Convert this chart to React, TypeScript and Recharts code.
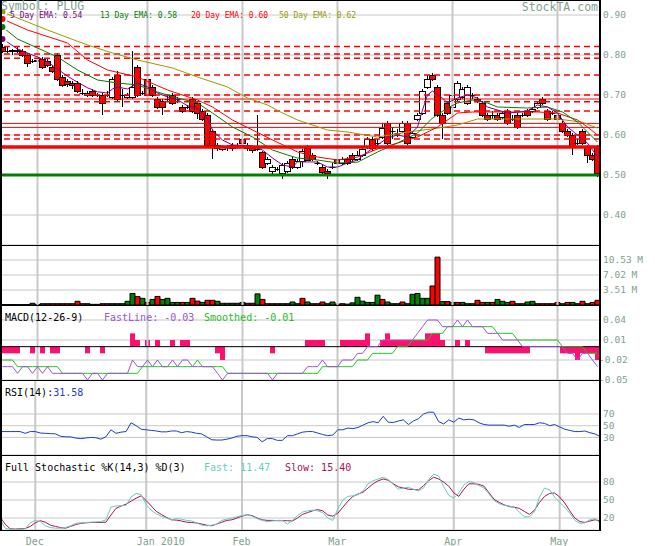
import React from "react";
import {
  Bar,
  CartesianGrid,
  Cell,
  ComposedChart,
  Line,
  ReferenceLine,
  XAxis,
  YAxis,
} from "recharts";

// PLUG daily, trading-day index 0 = 19 Nov 2009 ... 119 = 13 May 2010
const MONTH_IDX = [7, 29, 48, 67, 90, 111];
const MONTH_LABELS = ["Dec", "Jan 2010", "Feb", "Mar", "Apr", "May"];

const OPEN = [
  0.82, 0.81, 0.81, 0.812, 0.81, 0.8, 0.785, 0.785, 0.79, 0.785,
  0.77, 0.8, 0.745, 0.735, 0.73, 0.73, 0.705, 0.7, 0.71, 0.7,
  0.7, 0.7, 0.695, 0.75, 0.7, 0.695, 0.695, 0.77, 0.705, 0.74,
  0.72, 0.69, 0.685, 0.69, 0.7, 0.69, 0.67, 0.67, 0.69, 0.68,
  0.66, 0.65, 0.61, 0.575, 0.565, 0.57, 0.575, 0.57, 0.59, 0.575,
  0.57, 0.565, 0.557, 0.53, 0.51, 0.515, 0.505, 0.51, 0.54, 0.52,
  0.535, 0.567, 0.55, 0.53, 0.52, 0.51, 0.52, 0.54, 0.53, 0.54,
  0.55, 0.54, 0.55, 0.57, 0.59, 0.58, 0.595, 0.63, 0.61, 0.605,
  0.61, 0.63, 0.595, 0.64, 0.655, 0.72, 0.75, 0.72, 0.65, 0.68,
  0.67, 0.69, 0.695, 0.68, 0.7, 0.69, 0.68, 0.65, 0.65, 0.65,
  0.645, 0.66, 0.64, 0.65, 0.65, 0.66, 0.66, 0.67, 0.69, 0.66,
  0.655, 0.65, 0.63, 0.61, 0.6, 0.58, 0.61, 0.57, 0.55, 0.57,
];
const CLOSE = [
  0.81, 0.81, 0.812, 0.81, 0.8, 0.78, 0.785, 0.787, 0.77, 0.775,
  0.76, 0.74, 0.725, 0.727, 0.725, 0.71, 0.705, 0.705, 0.7, 0.7,
  0.68, 0.7, 0.74, 0.69, 0.7, 0.7, 0.72, 0.7, 0.705, 0.7,
  0.7, 0.67, 0.67, 0.69, 0.68, 0.69, 0.66, 0.67, 0.66, 0.655,
  0.64, 0.575, 0.575, 0.567, 0.57, 0.57, 0.567, 0.575, 0.58, 0.567,
  0.563, 0.565, 0.52, 0.54, 0.52, 0.515, 0.525, 0.53, 0.52, 0.535,
  0.56, 0.537, 0.54, 0.53, 0.507, 0.505, 0.52, 0.53, 0.54, 0.53,
  0.54, 0.55, 0.565, 0.59, 0.567, 0.58, 0.617, 0.58, 0.61, 0.605,
  0.63, 0.58, 0.605, 0.65, 0.71, 0.74, 0.74, 0.65, 0.63, 0.655,
  0.7, 0.73, 0.715, 0.72, 0.7, 0.685, 0.65, 0.64, 0.65, 0.64,
  0.655, 0.63, 0.64, 0.62, 0.65, 0.65, 0.665, 0.68, 0.68, 0.64,
  0.655, 0.64, 0.61, 0.6, 0.57, 0.58, 0.58, 0.55, 0.54, 0.505,
];
const HIGH = [
  0.84, 0.82, 0.815, 0.82, 0.815, 0.805, 0.79, 0.795, 0.795, 0.79,
  0.775, 0.805, 0.75, 0.74, 0.735, 0.735, 0.715, 0.71, 0.715, 0.705,
  0.705, 0.71, 0.745, 0.76, 0.715, 0.705, 0.81, 0.775, 0.71, 0.76,
  0.725, 0.695, 0.69, 0.7, 0.705, 0.695, 0.675, 0.675, 0.695, 0.685,
  0.665, 0.655, 0.615, 0.58, 0.575, 0.575, 0.58, 0.58, 0.595, 0.58,
  0.575, 0.65, 0.56, 0.545, 0.525, 0.52, 0.53, 0.535, 0.545, 0.54,
  0.565, 0.575, 0.555, 0.535, 0.525, 0.515, 0.53, 0.545, 0.545, 0.545,
  0.555, 0.56, 0.57, 0.595, 0.595, 0.59, 0.63, 0.635, 0.62, 0.615,
  0.635, 0.635, 0.61, 0.655, 0.715, 0.75, 0.755, 0.725, 0.655, 0.685,
  0.705, 0.735, 0.72, 0.725, 0.705, 0.695, 0.685, 0.655, 0.66, 0.655,
  0.66, 0.665, 0.65, 0.655, 0.655, 0.665, 0.67, 0.685, 0.695, 0.665,
  0.66, 0.655, 0.635, 0.615, 0.605, 0.59, 0.615, 0.575, 0.555, 0.575,
];
const LOW = [
  0.805, 0.805, 0.8, 0.805, 0.795, 0.77, 0.78, 0.78, 0.765, 0.77,
  0.755, 0.735, 0.72, 0.72, 0.715, 0.705, 0.7, 0.695, 0.695, 0.695,
  0.65, 0.695, 0.69, 0.685, 0.67, 0.69, 0.69, 0.695, 0.7, 0.695,
  0.695, 0.665, 0.65, 0.685, 0.675, 0.68, 0.655, 0.665, 0.655, 0.64,
  0.635, 0.57, 0.54, 0.56, 0.56, 0.56, 0.56, 0.565, 0.575, 0.56,
  0.555, 0.56, 0.515, 0.525, 0.5, 0.51, 0.49, 0.505, 0.515, 0.515,
  0.52, 0.535, 0.535, 0.525, 0.5, 0.49, 0.515, 0.525, 0.525, 0.525,
  0.535, 0.535, 0.545, 0.565, 0.56, 0.57, 0.59, 0.575, 0.59, 0.595,
  0.605, 0.575, 0.59, 0.635, 0.65, 0.715, 0.735, 0.645, 0.59, 0.65,
  0.66, 0.685, 0.69, 0.675, 0.69, 0.68, 0.645, 0.635, 0.64, 0.635,
  0.64, 0.625, 0.635, 0.615, 0.645, 0.645, 0.655, 0.665, 0.675, 0.635,
  0.65, 0.635, 0.605, 0.595, 0.55, 0.575, 0.575, 0.53, 0.535, 0.495,
];

// EMA lines as [day index, value]
const EMA5: [number, number][] = [
  [0, 0.84], [1, 0.832], [3, 0.815], [5, 0.805], [7, 0.795], [9, 0.783], [11, 0.765],
  [13, 0.747], [15, 0.732], [17, 0.718], [19, 0.708], [21, 0.705], [22, 0.715], [23, 0.72],
  [25, 0.715], [27, 0.73], [29, 0.72], [31, 0.705], [33, 0.695], [35, 0.688], [37, 0.673],
  [39, 0.667], [41, 0.64], [42, 0.612], [44, 0.5875], [46, 0.575], [50, 0.573], [52, 0.5625],
  [54, 0.5425], [56, 0.525], [58, 0.52], [59, 0.533], [63, 0.5325], [65, 0.52], [67, 0.52],
  [69, 0.53], [71, 0.5375], [73, 0.5575], [75, 0.575], [77, 0.5925], [79, 0.6], [81, 0.595],
  [83, 0.62], [84, 0.6625], [85, 0.7], [86, 0.71], [88, 0.6925], [89, 0.68], [91, 0.6925],
  [93, 0.7], [95, 0.6925], [97, 0.67], [99, 0.6625], [101, 0.655], [103, 0.657], [105, 0.66],
  [107, 0.675], [109, 0.67], [111, 0.655], [113, 0.62], [115, 0.6], [117, 0.58], [119, 0.545],
];
const EMA13: [number, number][] = [
  [0, 0.87], [3, 0.84], [7, 0.8175], [11, 0.795], [15, 0.7625], [19, 0.7375], [23, 0.73],
  [27, 0.725], [31, 0.7075], [35, 0.6925], [39, 0.68], [42, 0.655], [46, 0.62], [50, 0.595],
  [54, 0.5625], [57, 0.55], [59, 0.5425], [63, 0.5375], [67, 0.53], [71, 0.532], [75, 0.5575],
  [79, 0.58], [83, 0.605], [86, 0.6425], [89, 0.6675], [91, 0.68], [94, 0.6875], [97, 0.68],
  [99, 0.67], [105, 0.6675], [109, 0.67], [112, 0.6575], [115, 0.6325], [119, 0.5825],
];
const EMA20: [number, number][] = [
  [0, 0.89], [5, 0.8625], [13, 0.83], [17, 0.7875], [21, 0.7625], [27, 0.745], [33, 0.7125],
  [36, 0.7], [39, 0.6875], [42, 0.67], [46, 0.6375], [50, 0.6125], [54, 0.5875], [57, 0.57],
  [59, 0.5575], [63, 0.545], [67, 0.5375], [71, 0.545], [75, 0.565], [79, 0.58], [83, 0.595],
  [87, 0.62], [91, 0.655], [94, 0.6575], [107, 0.6575], [111, 0.655], [115, 0.6375],
  [117, 0.62], [119, 0.6],
];
const EMA50: [number, number][] = [
  [0, 0.9075], [4, 0.8875], [9, 0.8625], [17, 0.825], [22, 0.805], [27, 0.7875], [34, 0.7675],
  [39, 0.745], [45, 0.72], [49, 0.6925], [53, 0.675], [56, 0.655], [59, 0.6375], [65, 0.6125],
  [69, 0.6075], [75, 0.595], [81, 0.6075], [87, 0.617], [91, 0.625], [95, 0.64], [111, 0.64],
  [116, 0.632], [119, 0.617],
];

// support / resistance levels
const DASHED_LEVELS = [0.821, 0.8025, 0.792, 0.75, 0.7, 0.683, 0.66, 0.6, 0.59];
const SOLID_LEVELS = [0.69, 0.629, 0.619];
const RED_LEVEL = 0.57;
const GREEN_LEVEL = 0.5;

// volume in millions, g = up day, r = down day
const VOLUME = [
  0.1, 0.1, 0.1, 0.1, 0.1, 0.1, 0.4, 0.1, 0.3, 0.3,
  0.3, 0.3, 0.3, 0.3, 0.3, 0.86, 0.3, 0.3, 0.15, 0.15,
  0.3, 0.3, 0.3, 0.3, 0.3, 0.86, 2.7, 1.95, 1.56, 0.6,
  1.3, 2.0, 1.3, 1.56, 0.6, 0.6, 0.6, 0.6, 1.56, 0.9,
  0.6, 1.1, 1.1, 0.86, 0.4, 0.4, 0.4, 0.4, 0.6, 0.4,
  0.4, 2.6, 1.3, 0.3, 0.3, 0.3, 0.3, 0.3, 0.7, 0.3,
  1.56, 0.7, 0.3, 0.3, 0.7, 0.3, 0.7, 0.2, 0.3, 0.2,
  0.5, 1.8, 0.9, 0.6, 0.6, 2.3, 1.3, 0.7, 0.3, 0.3,
  0.7, 0.3, 2.5, 2.7, 1.56, 1.56, 4.45, 11.2, 0.8, 0.8,
  0.6, 0.6, 0.6, 0.3, 0.3, 1.1, 0.6, 0.6, 0.6, 1.3,
  0.86, 0.6, 0.86, 0.3, 0.3, 0.7, 0.86, 0.3, 0.3, 0.3,
  0.3, 0.6, 0.3, 0.6, 0.6, 0.3, 0.86, 0.3, 0.6, 1.1,
];
const VOLUME_DIR =
  "gggggggggr" + "rrrrrrrggg" + "rrgggggrgr" + "grggggrgrr" + "grrggggggr" +
  "rgrrgrgrgg" + "rgrrrgggrg" + "ggggggrggg" + "rgggggrrgr" + "grgggrrgrg" +
  "ggrggggrrr" + "rrgrggrgrr";

const MACD_FAST = [
  -0.03, -0.03, -0.03, -0.04, -0.03, -0.03, -0.04, -0.03, -0.04, -0.03,
  -0.04, -0.04, -0.04, -0.04, -0.04, -0.04, -0.04, -0.05, -0.04, -0.04,
  -0.05, -0.04, -0.04, -0.04, -0.04, -0.04, -0.02, -0.03, -0.03, -0.02,
  -0.03, -0.02, -0.03, -0.03, -0.02, -0.03, -0.02, -0.02, -0.03, -0.03,
  -0.03, -0.03, -0.03, -0.04, -0.05, -0.04, -0.04, -0.04, -0.04, -0.04,
  -0.04, -0.04, -0.04, -0.04, -0.05, -0.04, -0.04, -0.04, -0.04, -0.04,
  -0.04, -0.03, -0.03, -0.03, -0.02, -0.03, -0.03, -0.03, -0.02, -0.02,
  -0.02, -0.01, -0.01, 0, 0, 0, 0.01, 0.01, 0.01, 0.01,
  0.01, 0.01, 0.01, 0.02, 0.03, 0.04, 0.04, 0.04, 0.03, 0.03,
  0.03, 0.04, 0.03, 0.04, 0.03, 0.03, 0.03, 0.02, 0.02, 0.02,
  0.01, 0.01, 0.01, 0.01, 0, 0, 0, 0, 0, 0,
  0, 0, 0, -0.01, -0.01, -0.02, -0.01, -0.01, -0.02, -0.03,
];
const MACD_SIGNAL = [
  -0.02, -0.02, -0.02, -0.03, -0.03, -0.03, -0.03, -0.03, -0.03, -0.03,
  -0.03, -0.03, -0.04, -0.04, -0.04, -0.04, -0.04, -0.04, -0.04, -0.04,
  -0.04, -0.04, -0.04, -0.04, -0.04, -0.04, -0.04, -0.04, -0.03, -0.03,
  -0.03, -0.03, -0.03, -0.03, -0.03, -0.03, -0.03, -0.03, -0.03, -0.02,
  -0.03, -0.03, -0.03, -0.03, -0.03, -0.04, -0.04, -0.04, -0.04, -0.04,
  -0.04, -0.04, -0.04, -0.04, -0.04, -0.04, -0.04, -0.04, -0.04, -0.04,
  -0.04, -0.04, -0.04, -0.04, -0.03, -0.03, -0.03, -0.03, -0.03, -0.03,
  -0.03, -0.02, -0.02, -0.02, -0.01, -0.01, -0.01, -0.01, -0.01, 0,
  0, 0, 0.01, 0.01, 0.01, 0.01, 0.02, 0.02, 0.02, 0.03,
  0.03, 0.03, 0.03, 0.03, 0.03, 0.03, 0.03, 0.03, 0.03, 0.02,
  0.02, 0.02, 0.02, 0.01, 0.01, 0.01, 0.01, 0.01, 0.01, 0.01,
  0.01, 0.01, 0, 0, 0, 0, 0, -0.01, -0.01, -0.01,
];
const MACD_HIST = [
  -0.01, -0.01, -0.01, -0.01, 0, 0, -0.01, 0, -0.01, 0,
  -0.01, -0.01, 0, 0, 0, 0, 0, -0.01, 0, 0,
  -0.01, 0, 0, 0, 0, 0, 0.02, 0.01, 0, 0.01,
  0, 0.01, 0, 0, 0.01, 0, 0.01, 0.01, 0, 0,
  0, 0, 0, -0.01, -0.02, 0, 0, 0, 0, 0,
  0, 0, 0, 0, -0.01, 0, 0, 0, 0, 0,
  0, 0.01, 0.01, 0.01, 0.01, 0, 0, 0, 0.01, 0.01,
  0.01, 0.01, 0.01, 0.02, 0, 0, 0.01, 0.02, 0.01, 0.01,
  0.01, 0.01, 0.01, 0.01, 0.01, 0.02, 0.02, 0.02, 0.01, 0,
  0, 0.01, 0, 0.01, 0, 0, 0, -0.01, -0.01, -0.01,
  -0.01, -0.01, -0.01, -0.01, -0.01, -0.01, 0, 0, 0, 0,
  0, 0, -0.01, -0.01, -0.01, -0.02, -0.01, -0.01, -0.01, -0.02,
];

const RSI = [
  40, 40, 40, 40, 40, 37, 40, 40, 37.5, 37,
  36.5, 36, 32, 31, 31, 29, 28, 29, 30, 29.5,
  27, 31, 43, 37, 39, 40, 55, 50, 44, 43,
  42, 41, 39.5, 39.5, 41, 41, 38, 40, 39, 37,
  36, 31, 26, 25.5, 25.5, 27, 29, 32, 33, 33,
  31, 30, 22.5, 28, 28, 25, 25, 33, 33, 36,
  39, 40, 40, 37.5, 35, 33, 34, 43, 43, 46,
  45, 47, 51, 55, 57, 55, 66, 56, 55.5, 58,
  60, 52, 58, 62, 70, 73, 73, 57, 53, 60,
  56, 63, 60, 61, 60, 55, 52, 51, 51, 51,
  51, 49, 51, 47, 52, 52, 52, 55, 54, 50,
  52, 48, 44, 42, 40, 40, 41, 38, 36, 31.58,
];

const STOCH_FAST = [
  18, 3, 1, 0.5, 1, 2, 12, 16, 14, 7,
  4, 3, 3, 4, 7, 11, 12, 12.5, 13, 13.5,
  14, 17, 38, 40, 40.5, 41, 55, 61, 59, 42,
  33, 27, 23, 20, 17, 19, 18, 16, 15, 12,
  8, 7, 8, 10, 16, 18, 20, 22, 24, 25.5,
  23, 19, 16, 14, 15, 16, 16, 10, 16, 24,
  30, 32, 33, 32, 29, 20, 16, 35, 50, 56,
  57, 59, 65, 77, 82, 85, 88, 84, 76, 68,
  70, 71, 68, 65, 70, 84, 93, 90, 72, 58,
  53, 62, 75, 81, 79, 74, 70, 60, 49, 44,
  41, 40, 38, 30, 22, 22, 30, 55, 70, 67,
  55, 46, 38, 28, 16, 11, 12, 17, 19, 11.47,
];
const STOCH_SLOW = [
  22, 10, 2, 1.5, 2, 2.5, 6, 12, 15.5, 13,
  8, 6, 4, 3, 6, 9, 11, 12, 12.5, 12.7,
  12.7, 13, 25, 36, 40, 43, 48, 53, 57, 49,
  40, 31, 26, 21, 17, 16.5, 15, 13, 12.5, 11.6,
  10, 8, 7, 10, 13, 16, 17, 20, 23, 25.5,
  24, 20, 17, 16, 16, 15.5, 15.5, 15.5, 15, 20,
  26, 29, 32, 34, 32, 25, 23, 28, 38, 48,
  56, 60, 63, 70, 77, 82, 85, 83, 77, 72,
  70, 68, 67.5, 67, 74, 82, 88, 85, 80, 73,
  62, 56, 68, 77, 77, 76, 73, 62, 51, 46,
  42, 39, 38, 36, 31, 26, 33, 46, 56, 61,
  61.6, 55, 45, 32, 20, 14, 12.7, 15, 17, 15.4,
];

const PRICE_TICKS = [0.4, 0.5, 0.6, 0.7, 0.8, 0.9];
const VOLUME_TICKS = [3.51, 7.02, 10.53];
const MACD_TICKS = [-0.05, -0.02, 0.01, 0.04];
const RSI_TICKS = [30, 50, 70];
const STOCH_TICKS = [20, 50, 80];

const MONO = '"DejaVu Sans Mono", monospace';
const LABEL = "#7f9f8f";
const GRID = "#c8c8c8";
const W = 655;
const AXIS_W = 55;

type Row = {
  i: number;
  open: number;
  high: number;
  low: number;
  close: number;
  vol: number;
  up: boolean;
  fast: number;
  signal: number;
  hist: number;
  rsi: number;
  k: number;
  d: number;
  e5: number | null;
  e13: number | null;
  e20: number | null;
  e50: number | null;
};

const rows: Row[] = CLOSE.map((close, i) => ({
  i,
  open: OPEN[i],
  high: HIGH[i],
  low: LOW[i],
  close,
  vol: VOLUME[i],
  up: VOLUME_DIR[i] === "g",
  fast: MACD_FAST[i],
  signal: MACD_SIGNAL[i],
  hist: MACD_HIST[i],
  rsi: RSI[i],
  k: STOCH_FAST[i],
  d: STOCH_SLOW[i],
  e5: null,
  e13: null,
  e20: null,
  e50: null,
}));
EMA5.forEach(([i, v]) => (rows[i].e5 = v));
EMA13.forEach(([i, v]) => (rows[i].e13 = v));
EMA20.forEach(([i, v]) => (rows[i].e20 = v));
EMA50.forEach(([i, v]) => (rows[i].e50 = v));

// candle drawn inside the low-high range bar that recharts positions
function Candle(props: any) {
  const { x, y, width, height, payload } = props;
  if (x == null || !payload) return null;
  const top = Math.min(y, y + height);
  const h = Math.abs(height);
  const { open, close, high, low } = payload;
  const span = high - low || 1;
  const py = (v: number) => top + ((high - v) / span) * h;
  const cx = Math.floor(x + width / 2) + 0.5;
  const bTop = Math.round(py(Math.max(open, close))) + 0.5;
  const bBot = Math.round(py(Math.min(open, close))) + 0.5;
  return (
    <g>
      <line x1={cx} x2={cx} y1={top} y2={top + h} stroke="#000" strokeWidth={1} />
      {bBot - bTop < 1 ? (
        <line x1={cx - 3} x2={cx + 3} y1={bTop} y2={bTop} stroke="#000" strokeWidth={1} />
      ) : (
        <rect
          x={cx - 3}
          y={bTop}
          width={6}
          height={bBot - bTop}
          fill={close >= open ? "#ffffff" : "#ff0000"}
          stroke="#000"
          strokeWidth={1}
        />
      )}
    </g>
  );
}

const rightTick = (fmt: (v: number) => string) => (p: any) => {
  const v = p.payload.value as number;
  return (
    <text
      x={p.x + (v < 0 ? -4 : 0)}
      y={p.y}
      dy="0.36em"
      fill={LABEL}
      fontSize={9.5}
      fontFamily={MONO}
    >
      {fmt(v)}
    </text>
  );
};

const monthTick = (p: any) => {
  const k = MONTH_IDX.indexOf(p.payload.value);
  if (k < 0) return <g />;
  return (
    <text x={p.x - 9.5} y={90} fill={LABEL} fontSize={10} fontFamily={MONO}>
      {MONTH_LABELS[k]}
    </text>
  );
};

const monthLines = MONTH_IDX.map((m) => (
  <ReferenceLine key={`m${m}`} x={m} stroke={GRID} strokeWidth={2} />
));

export default function App() {
  const common = {
    data: rows,
    width: W,
    margin: { top: 0, right: 0, bottom: 0, left: 0 },
    barCategoryGap: 0,
    barGap: 0,
  };
  const yAxisProps = {
    orientation: "right" as const,
    width: AXIS_W,
    axisLine: false,
    tickLine: false,
    tickSize: 0,
    tickMargin: 3,
    allowDataOverflow: true,
    interval: 0 as const,
  };
  return (
    <div
      style={{
        position: "absolute",
        left: 0,
        top: 0,
        width: W,
        height: 546,
        background: "#fff",
        overflow: "hidden",
      }}
    >
      {/* price */}
      <div style={{ position: "absolute", left: 0, top: 0 }}>
        <ComposedChart {...common} height={245}>
          <CartesianGrid vertical={false} stroke={GRID} />
          {monthLines}
          <XAxis dataKey="i" hide />
          <YAxis
            {...yAxisProps}
            domain={[0.325, 0.9375]}
            ticks={PRICE_TICKS}
            tick={rightTick((v) => v.toFixed(2))}
          />
          {DASHED_LEVELS.map((v) => (
            <ReferenceLine key={`d${v}`} y={v} stroke="#ff0000" strokeWidth={1.5} strokeDasharray="6 4" />
          ))}
          {SOLID_LEVELS.map((v) => (
            <ReferenceLine key={`s${v}`} y={v} stroke="#ff0000" strokeWidth={1} />
          ))}
          <Bar
            dataKey={(r: Row) => [r.low, r.high]}
            shape={(p: any) => <Candle {...p} />}
            isAnimationActive={false}
          />
          <Line dataKey="e50" stroke="#999900" dot={false} connectNulls strokeWidth={1} type="linear" isAnimationActive={false} />
          <Line dataKey="e20" stroke="#ff0000" dot={false} connectNulls strokeWidth={1} type="linear" isAnimationActive={false} />
          <Line dataKey="e13" stroke="#008000" dot={false} connectNulls strokeWidth={1} type="linear" isAnimationActive={false} />
          <Line dataKey="e5" stroke="#800080" dot={false} connectNulls strokeWidth={1} type="linear" isAnimationActive={false} />
          <ReferenceLine y={RED_LEVEL} stroke="#ff0000" strokeWidth={3.5} />
          <ReferenceLine y={GREEN_LEVEL} stroke="#008000" strokeWidth={3} />
        </ComposedChart>
      </div>

      {/* volume */}
      <div style={{ position: "absolute", left: 0, top: 245 }}>
        <ComposedChart {...common} height={60}>
          <CartesianGrid vertical={false} stroke={GRID} />
          {monthLines}
          <XAxis dataKey="i" hide />
          <YAxis
            {...yAxisProps}
            domain={[0, 14.04]}
            ticks={VOLUME_TICKS}
            tick={rightTick((v) => `${v.toFixed(2)} M`)}
          />
          <Bar dataKey="vol" stroke="#000" strokeWidth={1} isAnimationActive={false}>
            {rows.map((r) => (
              <Cell key={r.i} fill={r.up ? "#008000" : "#ff0000"} />
            ))}
          </Bar>
        </ComposedChart>
      </div>

      {/* MACD (extra 10px below the plot so the -0.05 label is not cut) */}
      <div style={{ position: "absolute", left: 0, top: 305 }}>
        <ComposedChart {...common} height={85} margin={{ top: 0, right: 0, bottom: 10, left: 0 }}>
          <CartesianGrid vertical={false} stroke={GRID} />
          {monthLines}
          <XAxis dataKey="i" hide />
          <YAxis
            {...yAxisProps}
            domain={[-0.05, 0.0625]}
            ticks={MACD_TICKS}
            tick={rightTick((v) => v.toFixed(2))}
          />
          <Bar dataKey="hist" fill="#ff1070" isAnimationActive={false} />
          <ReferenceLine y={0} stroke="#000" strokeWidth={1} />
          <Line dataKey="signal" stroke="#22c022" dot={false} strokeWidth={1} type="linear" isAnimationActive={false} />
          <Line dataKey="fast" stroke="#9a55d0" dot={false} strokeWidth={1} type="linear" isAnimationActive={false} />
        </ComposedChart>
      </div>

      {/* RSI */}
      <div style={{ position: "absolute", left: 0, top: 380 }}>
        <ComposedChart {...common} height={75}>
          <CartesianGrid vertical={false} stroke={GRID} />
          {monthLines}
          <XAxis dataKey="i" hide />
          <YAxis
            {...yAxisProps}
            domain={[0, 128]}
            ticks={RSI_TICKS}
            tick={rightTick((v) => String(v))}
          />
          <Line dataKey="rsi" stroke="#1e3cc8" dot={false} strokeWidth={1} type="linear" isAnimationActive={false} />
        </ComposedChart>
      </div>

      {/* stochastic */}
      <div style={{ position: "absolute", left: 0, top: 455 }}>
        <ComposedChart {...common} height={91}>
          <CartesianGrid vertical={false} stroke={GRID} />
          {monthLines}
          <XAxis
            dataKey="i"
            height={16}
            axisLine={false}
            tickLine={false}
            interval={0}
            tick={monthTick}
          />
          <YAxis
            {...yAxisProps}
            domain={[0, 125]}
            ticks={STOCH_TICKS}
            tick={rightTick((v) => String(v))}
          />
          <Line dataKey="d" stroke="#aa1155" dot={false} strokeWidth={1} type="linear" isAnimationActive={false} />
          <Line dataKey="k" stroke="#66ccbb" dot={false} strokeWidth={1} type="linear" isAnimationActive={false} />
        </ComposedChart>
      </div>

      {/* frames and titles */}
      <svg
        width={W}
        height={546}
        style={{ position: "absolute", left: 0, top: 0, pointerEvents: "none" }}
      >
        {[0.5, 245.5, 305.5, 380.5, 455.5, 530.5].map((y) => (
          <line key={y} x1={0} x2={601} y1={y} y2={y} stroke="#000" strokeWidth={1} />
        ))}
        <line x1={1} x2={1} y1={0} y2={531} stroke="#000" strokeWidth={2} />
        <line x1={600} x2={600} y1={0} y2={531} stroke="#000" strokeWidth={2} />

        <text x={1} y={9.5} fill={LABEL} fontSize={11.5} fontFamily={MONO}>Symbol: PLUG</text>
        <text x={598} y={10.5} fill={LABEL} fontSize={11.5} fontFamily={MONO} textAnchor="end">StockTA.com</text>
        <text x={10} y={18} fill="#800080" fontSize={8} fontFamily={MONO}>5 Day EMA: 0.54</text>
        <text x={100} y={18} fill="#008000" fontSize={8} fontFamily={MONO}>13 Day EMA: 0.58</text>
        <text x={191} y={18} fill="#ff0000" fontSize={8} fontFamily={MONO}>20 Day EMA: 0.60</text>
        <text x={279} y={18} fill="#999900" fontSize={8} fontFamily={MONO}>50 Day EMA: 0.62</text>

        <text x={5} y={321} fill="#000" fontSize={10} fontFamily={MONO}>MACD(12-26-9)</text>
        <text x={104} y={321} fill="#9a55d0" fontSize={10} fontFamily={MONO}>FastLine: -0.03</text>
        <text x={204} y={321} fill="#22c022" fontSize={10} fontFamily={MONO}>Smoothed: -0.01</text>

        <text x={5} y={396} fontSize={10} fontFamily={MONO}>
          <tspan fill="#000">RSI(14):</tspan>
          <tspan fill="#1e3cc8">31.58</tspan>
        </text>

        <text x={5} y={471} fill="#000" fontSize={10} fontFamily={MONO}>Full Stochastic %K(14,3) %D(3)</text>
        <text x={204} y={471} fill="#66ccbb" fontSize={10} fontFamily={MONO}>Fast: 11.47</text>
        <text x={285} y={471} fill="#aa1155" fontSize={10} fontFamily={MONO}>Slow: 15.40</text>
      </svg>
    </div>
  );
}
